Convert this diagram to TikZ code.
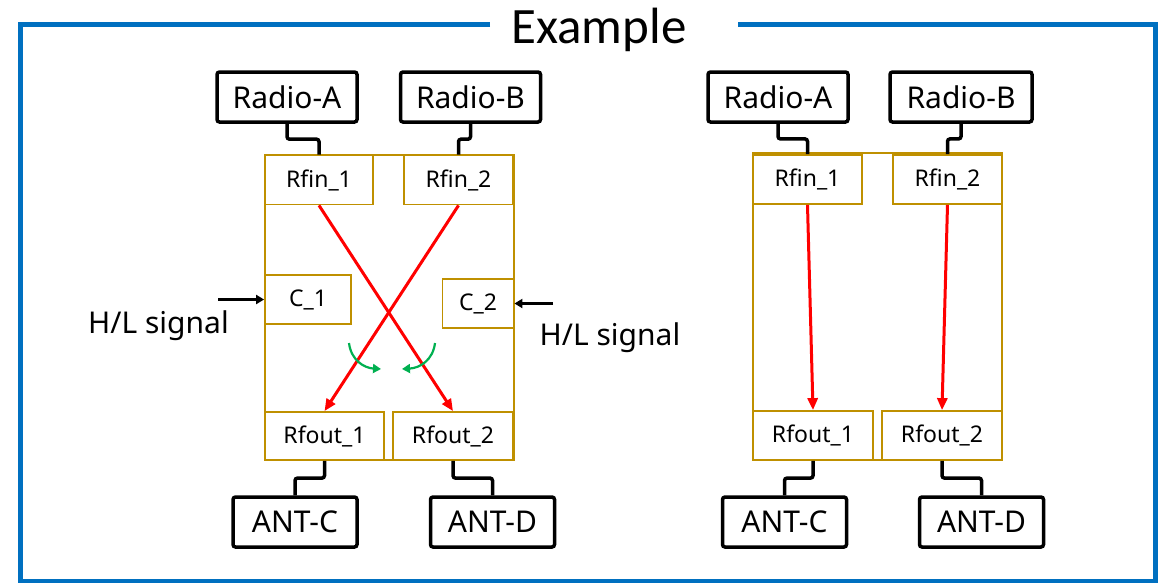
\documentclass[tikz,border=0pt]{standalone}
\usepackage{fontspec}
\setmainfont{Noto Sans}
\newfontfamily\titlefont{Carlito}
\usetikzlibrary{calc,arrows.meta}
\definecolor{gold}{HTML}{BF9000}
\definecolor{frameblue}{HTML}{0070C0}
\definecolor{sigred}{HTML}{FF0000}
\definecolor{turngreen}{HTML}{00B050}

\begin{document}
\begin{tikzpicture}[
  x=1pt,y=-1pt,
  every node/.style={inner sep=0pt},
  radio/.style={draw=black,line width=3.5pt,rounded corners=2.5pt,fill=white,
    minimum width=140pt,minimum height=50pt,font=\fontsize{30}{31}\selectfont},
  ant/.style={radio,minimum width=124pt},
  port/.style={draw=gold,line width=1.8pt,fill=white,minimum width=#1,
    minimum height=49pt,font=\fontsize{23}{25}\selectfont},
  swbox/.style={draw=gold,line width=1.8pt},
  wire/.style={line width=3.5pt,rounded corners=2.5pt,
    to path={|- ($(\tikztostart)!0.5!(\tikztotarget)$) -| (\tikztotarget)}},
  rf/.style={draw=sigred,line width=3pt,-{Triangle[length=12pt,width=10pt]}},
  turn/.style={draw=turngreen,line width=2.2pt,-{Triangle[length=8pt,width=9pt]}},
  ctl/.style={line width=2.4pt,-{Triangle[length=8pt,width=9pt]}},
  lbl/.style={anchor=base,font=\fontsize{30}{32}\selectfont}
]
\useasboundingbox (0,0) rectangle (1163,582);
% ================= frame and title =================
\node[anchor=base,font=\titlefont\fontsize{51}{52}\selectfont] (title) at (599,43) {Example};
\draw[frameblue,line width=5pt] (490,24.5) -- (20,24.5) -- (20,581) -- (1155,581) -- (1155,24.5) -- (738,24.5);
% ================= left: crossed with control =================
\begin{scope}[shift={(0,0)}]
  \draw[swbox] (265,155) rectangle (514,460);
  \node[radio] (ra) at (287,97) {Radio-A};
  \node[radio] (rb) at (470.5,97) {Radio-B};
  \node[port=108pt] (rfa) at (319,180) {Rfin\_1};
  \node[port=109pt] (rfb) at (458.5,180) {Rfin\_2};
  \node[port=86pt] (c1) at (308,299.5) {C\_1};
  \node[port=71pt] (c2) at (478,303.5) {C\_2};
  \node[port=119pt,minimum height=48pt] (roa) at (324.5,436) {Rfout\_1};
  \node[port=120pt,minimum height=48pt] (rob) at (453,436) {Rfout\_2};
  \node[ant] (anc) at (295,522) {ANT-C};
  \node[ant] (and) at (492.5,522) {ANT-D};
  \draw[wire] (ra.south) to (rfa.north);
  \draw[wire] (rb.south) to (rfb.north);
  \draw[wire] (roa.south) to (anc.north);
  \draw[wire] (rob.south) to (and.north);
  \draw[rf] (rfa.south) -- (rob.north);
  \draw[rf] (rfb.south) -- (roa.north);
  % turning marks
  \coordinate (g1) at (349,343);
  \coordinate (g2) at (381,369);
  \coordinate (g3) at (435,343);
  \coordinate (g4) at (402,369);
  \draw[turn] (g1) .. controls (351,360) and (364,368) .. (g2);
  \draw[turn] (g3) .. controls (433,360) and (420,368) .. (g4);
  % H/L inputs
  \coordinate (hl1) at (218,299.5);
  \coordinate (hl2) at (553,303.5);
  \draw[ctl] (hl1) -- (c1.west);
  \draw[ctl] (hl2) -- (c2.east);
  \node[lbl] (sig1) at (158.5,333) {H/L signal};
  \node[lbl] (sig2) at (610,345) {H/L signal};
\end{scope}
% ================= right: straight through =================
\begin{scope}[shift={(488,0)}]
  \draw[swbox] (265,153) rectangle (514,460);
  \node[radio] (ra2) at (290,97) {Radio-A};
  \node[radio,minimum width=142pt] (rb2) at (473,97) {Radio-B};
  \node[port=109pt] (rfa2) at (319.5,179.5) {Rfin\_1};
  \node[port=109pt] (rfb2) at (459.5,179.5) {Rfin\_2};
  \node[port=120pt] (roa2) at (325,435.5) {Rfout\_1};
  \node[port=120pt] (rob2) at (454,435.5) {Rfout\_2};
  \node[ant] (anc2) at (296.5,522) {ANT-C};
  \node[ant] (and2) at (493.5,522) {ANT-D};
  \draw[wire] (ra2.south) to (rfa2.north);
  \draw[wire] (rb2.south) to (rfb2.north);
  \draw[wire] (roa2.south) to (anc2.north);
  \draw[wire] (rob2.south) to (and2.north);
  \draw[rf] (rfa2.south) -- (roa2.north);
  \draw[rf] (rfb2.south) -- (rob2.north);
\end{scope}
\end{tikzpicture}
\end{document}
